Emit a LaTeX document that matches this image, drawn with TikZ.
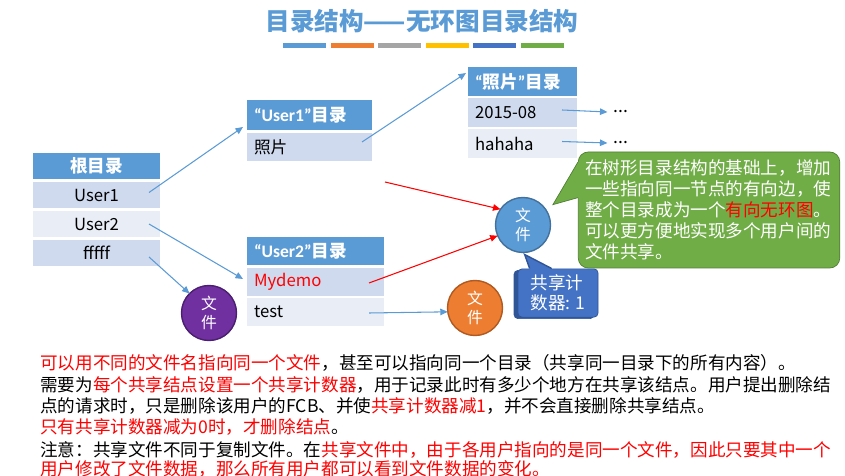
\documentclass[tikz,border=0pt]{standalone}
\usepackage{fontspec}
\setmainfont{Noto Sans CJK SC}
\newfontfamily\latin{Carlito}
\usepackage{xcolor}
\usepackage{tikz}
\usetikzlibrary{arrows.meta,positioning,calc,shadows}
\definecolor{hdrblue}{HTML}{5B9BD5}
\definecolor{rowa}{HTML}{CFDAEE}
\definecolor{rowb}{HTML}{E8EDF6}
\definecolor{notegreen}{HTML}{70AD47}
\definecolor{notedark}{HTML}{507E32}
\definecolor{cntblue}{HTML}{4472C4}
\definecolor{cntdark}{HTML}{2F5597}
\definecolor{fileblue}{HTML}{5B9BD5}
\definecolor{filebluedk}{HTML}{41719C}
\definecolor{fileorange}{HTML}{ED7D31}
\definecolor{fileorangedk}{HTML}{AE5A21}
\definecolor{filepurple}{HTML}{7030A0}
\definecolor{filepurpledk}{HTML}{4B1F6F}
\definecolor{barA}{HTML}{5B9BD5}
\definecolor{barB}{HTML}{ED7D31}
\definecolor{barC}{HTML}{A5A5A5}
\definecolor{barD}{HTML}{FFC000}
\definecolor{barE}{HTML}{4472C4}
\definecolor{barF}{HTML}{70AD47}
\tikzset{
  hcell/.style={fill=hdrblue,text=white,font=\fontsize{10}{12}\selectfont\bfseries,inner ysep=0pt,inner xsep=0.14cm,outer sep=0pt},
  dcell/.style={fill=rowa,font=\fontsize{9.5}{11}\selectfont,inner ysep=0pt,inner xsep=0.14cm,outer sep=0pt},
  lcell/.style={dcell,fill=rowb},
  tw/.style={text width=#1,align=left},
  rootc/.style={minimum width=2.54cm,minimum height=0.52cm},
  filec/.style={circle,minimum size=1.1cm,inner sep=0pt,outer sep=0pt,text=white,align=center,font=\fontsize{9}{11}\selectfont,line width=0.8pt},
  txt/.style={anchor=west,inner sep=0pt,font=\fontsize{10}{12}\selectfont},
  barr/.style={-{Triangle[length=1.5mm,width=1.3mm]},line width=0.6pt,hdrblue},
  rarr/.style={-{Triangle[length=1.5mm,width=1.3mm]},line width=0.6pt,red},
}
\begin{document}
\begin{tikzpicture}
\useasboundingbox (0,0) rectangle (16.9,9.5);
\node[font=\fontsize{14}{16}\selectfont\bfseries,text=hdrblue] (title) at (8.44,9.08) {目录结构——无环图目录结构};
\foreach \c [count=\i from 0] in {barA,barB,barC,barD,barE,barF}
  \fill[\c] (5.66+\i*0.952,8.54) rectangle ++(0.86,0.1);

% root table
\node[hcell,rootc] (root) at (1.93,6.18) {根目录};
\node[dcell,rootc,below=0.06cm of root] (ru1) {User1};
\node[lcell,rootc,below=0.06cm of ru1] (ru2) {User2};
\node[dcell,rootc,below=0.06cm of ru2] (rf) {fffff};

% user tables
\node[hcell,tw=2.22cm,minimum height=0.6cm] (u1) at (6.19,7.2) {{\latin “User1”}目录};
\node[dcell,tw=2.22cm,minimum height=0.56cm,below=0.06cm of u1] (u1p) {照片};
\node[hcell,tw=2.46cm,minimum height=0.56cm] (u2) at (6.31,4.48) {{\latin “User2”}目录};
\node[dcell,tw=2.46cm,minimum height=0.56cm,below=0.06cm of u2,text=red] (u2m) {Mydemo};
\node[lcell,tw=2.46cm,minimum height=0.56cm,below=0.04cm of u2m] (u2t) {test};
\node[hcell,tw=1.9cm,minimum height=0.58cm] (ph) at (10.45,7.87) {{\latin “}照片{\latin ”}目录};
\node[dcell,tw=1.9cm,minimum height=0.58cm,below=0.04cm of ph] (pha) {2015-08};
\node[lcell,tw=1.9cm,minimum height=0.58cm,below=0.04cm of pha] (phb) {hahaha};
\node (dota) at (12.42,7.26) {...};
\node (dotb) at (12.42,6.64) {...};

% files
\node[filec,fill=fileblue,draw=filebluedk] (fb) at (10.46,5.0) {文\\件};
\node[filec,fill=fileorange,draw=fileorangedk] (fo) at (9.5,3.34) {文\\件};
\node[filec,fill=filepurple,draw=filepurpledk] (fp) at (4.18,3.24) {文\\件};

\draw[barr] ($(ru1.east)+(-0.22,0.05)$) -- ($(u1.south west)+(-0.08,0.06)$);
\draw[barr] ($(ru2.east)+(-0.22,0)$) -- ($(u2m.west)+(-0.08,0.06)$);
\draw[barr] ($(rf.east)+(-0.22,-0.08)$) -- (fp.135);
\draw[barr] ($(u1p.east)+(-0.2,0.1)$) -- ($(ph.north west)+(-0.04,-0.12)$);
\draw[barr] ($(pha.east)+(-0.3,0.05)$) -- (dota.west);
\draw[barr] ($(phb.east)+(-0.3,0.04)$) -- (dotb.west);
\draw[rarr] ($(u1p.south east)+(0.26,-0.42)$) -- (fb.145);
\draw[rarr] ($(u2m.east)+(-0.3,-0.02)$) -- (fb.203);
\draw[barr] ($(u2t.east)+(-0.3,-0.02)$) -- (fo.188);

% callouts
\node[fill=notegreen,draw=notedark,rounded corners=0.2cm,text=white,font=\fontsize{10}{11.9}\selectfont,text width=4.95cm,align=left,inner xsep=0.14cm,minimum height=2.32cm] (note) at (14.18,5.3)
  {在树形目录结构的基础上，增加\\一些指向同一节点的有向边，使\\整个目录成为一个\textcolor{red}{有向无环图}。\\可以更方便地实现多个用户间的\\文件共享。};
\fill[notegreen] ($(note.north west)+(0,-0.21)$) -- ($(note.north west)+(-0.5,-1.06)$) -- ($(note.north west)+(0,-0.92)$) -- ($(note.north west)+(0.05,-0.92)$) -- ($(note.north west)+(0.05,-0.21)$) -- cycle;
\draw[notedark] ($(note.north west)+(0,-0.21)$) -- ($(note.north west)+(-0.5,-1.06)$) -- ($(note.north west)+(0,-0.92)$);
\node[fill=cntblue,draw=cntdark,rounded corners=0.08cm,text=white,font=\fontsize{10}{11.5}\selectfont,align=left,minimum width=1.6cm,minimum height=0.84cm,copy shadow={fill=cntdark,draw=cntdark,shadow xshift=-0.08cm,shadow yshift=-0.03cm}] (cnt) at (11.16,3.64) {共享计\\数器: 1};
\fill[cntblue] ($(cnt.north west)+(0.24,0)$) -- ($(cnt.north west)+(0.14,0.28)$) -- ($(cnt.north west)+(0.68,0)$) -- ($(cnt.north west)+(0.68,-0.04)$) -- ($(cnt.north west)+(0.24,-0.04)$) -- cycle;
\draw[cntdark,line width=0.8pt] ($(cnt.north west)+(0.24,0)$) -- ($(cnt.north west)+(0.14,0.28)$) -- ($(cnt.north west)+(0.68,0)$);

% notes below
\node[txt] (l1) at (0.8,2.24) {\textcolor{red}{可以用不同的文件名指向同一个文件}，甚至可以指向同一个目录（共享同一目录下的所有内容）。};
\node[txt] (l2) at (0.8,1.8) {需要为\textcolor{red}{每个共享结点设置一个共享计数器}，用于记录此时有多少个地方在共享该结点。用户提出删除结};
\node[txt] (l3) at (0.8,1.38) {点的请求时，只是删除该用户的FCB、并使\textcolor{red}{共享计数器减1}，并不会直接删除共享结点。};
\node[txt] (l4) at (0.8,0.96) {\textcolor{red}{只有共享计数器减为0时，才删除结点}。};
\node[txt] (l5) at (0.8,0.5) {注意：共享文件不同于复制文件。在\textcolor{red}{共享文件中，由于各用户指向的是同一个文件，因此只要其中一个}};
\node[txt] (l6) at (0.8,0.12) {\textcolor{red}{用户修改了文件数据，那么所有用户都可以看到文件数据的变化。}};
\end{tikzpicture}
\end{document}
